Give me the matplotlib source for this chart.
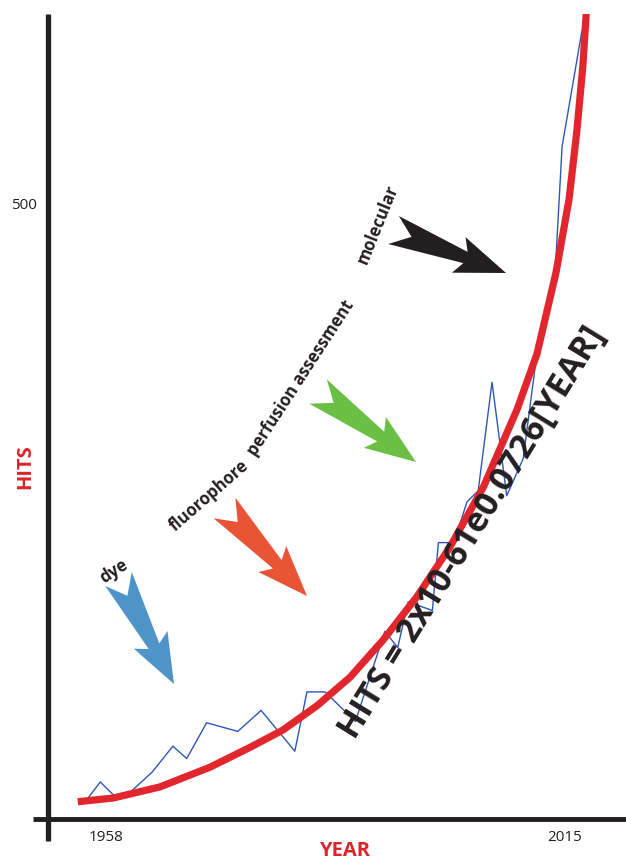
import numpy as np
import matplotlib.pyplot as plt
from matplotlib.patches import Polygon

# yearly hits (blue trace)
hit_years = [1958.0, 1959.3, 1960.9, 1962.5, 1965.3, 1967.7, 1969.3, 1971.6,
             1975.2, 1977.9, 1981.8, 1983.2, 1985.3, 1988.8, 1992.2, 1993.7,
             1994.9, 1997.7, 1998.4, 2000.2, 2001.7, 2003.0, 2004.6, 2006.3,
             2008.2, 2009.9, 2011.9, 2012.7, 2015.0]
hits = [18, 30, 19, 20, 38, 59, 49, 78,
        71, 88, 55, 103, 103, 79, 152, 139,
        176, 169, 224, 224, 257, 266, 354, 262,
        292, 383, 443, 545, 639]

# exponential fit (red curve)
fit_years = [1956.7, 1960.8, 1966.2, 1972.0, 1976.6, 1980.4, 1984.4, 1988.2,
             1992.0, 1995.9, 1999.7, 2003.6, 2007.5, 2009.8, 2012.0, 2013.5,
             2014.4, 2015.1, 2015.5]
fit_hits = [14, 17, 26, 42, 58, 72, 92, 115,
            145, 180, 220, 269, 332, 377, 443, 502,
            557, 610, 654]

xtick_years = [1958, 2015]
ytick_values = [500]

labels = ["dye", "fluorophore", "perfusion assessment", "molecular"]
formula = "HITS = 2x10-61e0.0726[YEAR]"

W, H = 626, 862
RED = "#d9252c"
INK = "#231f20"
plt.rcParams['font.family'] = ['Open Sans', 'DejaVu Sans']


def fpos(x, y):
    # pixel (top-left origin) -> figure fraction
    return x / W, 1 - y / H


def arrow(fig, tail, tip, color, wt=15, wn=6, wb=19, notch=0.16, neck=0.64, barb=0.58):
    tail = np.array(tail, float)
    tip = np.array(tip, float)
    d = tip - tail
    L = np.hypot(*d)
    u = d / L
    v = np.array([u[1], -u[0]])
    pts = [tail + wt * v,
           tail + neck * L * u + wn * v,
           tail + barb * L * u + wb * v,
           tip,
           tail + barb * L * u - wb * v,
           tail + neck * L * u - wn * v,
           tail - wt * v,
           tail + notch * L * u]
    pts = [fpos(p[0], p[1]) for p in pts]
    fig.patches.append(Polygon(pts, closed=True, transform=fig.transFigure,
                               facecolor=color, edgecolor='none'))


def draw(save_file):
    fig = plt.figure(figsize=(W / 100, H / 100), dpi=100)
    ax = fig.add_axes([48 / W, 1 - 820 / H, (W - 48) / W, (820 - 15) / H])
    ax.set_xlim(1953.26, 2020.09)
    ax.set_ylim(0, 652.4)

    ax.plot(hit_years, hits, color="#2f55b8", lw=1.0)
    ax.plot(fit_years, fit_hits, color="#e1262d", lw=5.2,
            solid_capstyle='butt', solid_joinstyle='round')

    for s in ax.spines.values():
        s.set_visible(False)
    ax.plot([-15 / 578, 1], [0, 0], transform=ax.transAxes, color=INK,
            lw=3.5, clip_on=False, solid_capstyle='butt')
    ax.plot([0, 0], [-22 / 805, 1], transform=ax.transAxes, color=INK,
            lw=3.8, clip_on=False, solid_capstyle='butt')

    ax.set_xticks(xtick_years)
    ax.set_xticklabels([str(y) for y in xtick_years])
    ax.set_yticks(ytick_values)
    ax.set_yticklabels([str(v) for v in ytick_values])
    ax.tick_params(length=0, labelsize=11, colors=INK)
    ax.tick_params(axis='x', pad=7)
    ax.tick_params(axis='y', pad=8)
    xl = ax.get_xticklabels()
    xl[0].set_ha('left')
    xl[-1].set_ha('right')

    fig.text(*fpos(345, 851), "YEAR", color=RED, fontsize=14.5,
             fontweight='bold', ha='center', va='center')
    fig.text(*fpos(25, 467), "HITS", color=RED, fontsize=14.5,
             fontweight='bold', ha='center', va='center', rotation=90)

    # arrows
    arrow(fig, (118.5, 580), (174, 685), "#4f94c9")
    arrow(fig, (224.5, 509), (307, 597), "#e85434")
    arrow(fig, (318, 392.5), (416, 463), "#6cbf45")
    arrow(fig, (393.5, 231), (506, 274), INK)

    label_pos = [(114, 571, 33), (209, 496, 41), (301, 378, 57), (378, 224, 68)]
    for text, (x, y, rot) in zip(labels, label_pos):
        fig.text(*fpos(x, y), text, color=INK, fontsize=12, fontweight='bold',
                 ha='center', va='center', rotation=rot, rotation_mode='anchor')

    fig.text(*fpos(472, 533), formula, color=INK, fontsize=24.5, fontweight='bold',
             ha='center', va='center', rotation=58.4, rotation_mode='anchor')

    if save_file is not None:
        fig.savefig(save_file, dpi=100)


if __name__ == "__main__":
    draw("out.png")
